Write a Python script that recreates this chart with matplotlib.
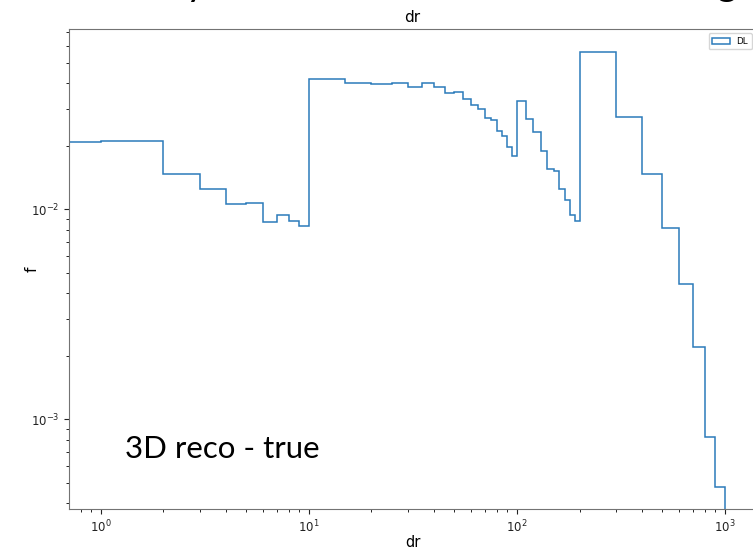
import numpy as np
import matplotlib
matplotlib.use("Agg")
import matplotlib.pyplot as plt

# bin edges of the dr histogram
edges = [0, 1, 2, 3, 4, 5, 6, 7, 8, 9, 10,
         15, 20, 25, 30, 35, 40, 45, 50, 55, 60, 65, 70, 75, 80, 85, 90, 95, 100,
         110, 120, 130, 140, 150, 160, 170, 180, 190, 200,
         300, 400, 500, 600, 700, 800, 900, 1000]

# fraction per bin
frac = [0.0209, 0.0211, 0.0147, 0.01245, 0.0106, 0.01068, 0.00873, 0.00939, 0.00883, 0.00833,
        0.0416, 0.0401, 0.0394, 0.0398, 0.0382, 0.0398, 0.0381, 0.0358, 0.0361,
        0.0336, 0.0315, 0.0299, 0.0271, 0.0266, 0.0235, 0.0224, 0.0199, 0.0179,
        0.0327, 0.0270, 0.0233, 0.0189, 0.01555, 0.01527, 0.01245, 0.0111, 0.00936, 0.0088,
        0.0561, 0.0275, 0.01469, 0.00815, 0.00443, 0.00222, 0.000826, 0.000478]

series_label = "DL"
title = "dr"
xlabel = "dr"
ylabel = "f"
note = "3D reco - true"

W, H = 753, 550
fig = plt.figure(figsize=(W / 100, H / 100), dpi=100)

# axes box in pixels (the right edge runs slightly past the picture)
left_px, right_px, top_px, bottom_px = 69, 756, 29, 509
ax = fig.add_axes([left_px / W, 1 - bottom_px / H,
                   (right_px - left_px) / W, (bottom_px - top_px) / H])

ax.hist(edges[:-1], bins=edges, weights=frac, histtype="step",
        color="#2b7bba", linewidth=1.1, label=series_label)
ax.set_xscale("log")
ax.set_yscale("log")
ax.set_xlim(0.704, 1409)
ax.set_ylim(3.74e-4, 0.0722)

ax.set_title(title, fontsize=11, pad=5)
ax.set_xlabel(xlabel, fontsize=10.5, labelpad=0)
ax.set_ylabel(ylabel, fontsize=11)
ax.yaxis.set_label_coords(-0.043, 0.5)
ax.tick_params(labelsize=8.5, colors="#222222")
for s in ax.spines.values():
    s.set_color("0.45")
ax.legend(loc="upper right", fontsize=6.3)

# text pasted on the slide
fig.text(125 / W, 1 - 458 / H, note, fontsize=22.5, family=["Lato", "DejaVu Sans"],
         va="baseline", ha="left")
# descenders of the slide title cut off at the top
fig.text(196 / W, 1 + 5 / H, "y", fontsize=28, family=["Lato", "DejaVu Sans"],
         va="baseline", ha="center")
fig.text(727 / W, 1 + 5 / H, "g", fontsize=28, family=["Lato", "DejaVu Sans"],
         va="baseline", ha="center")

fig.savefig("out.png", dpi=100)
